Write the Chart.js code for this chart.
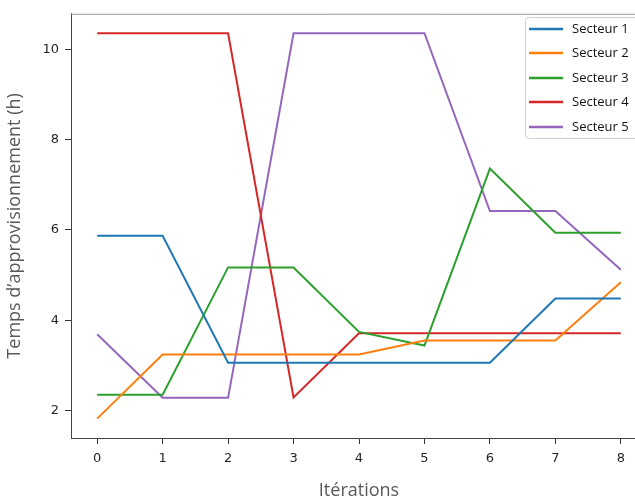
<!DOCTYPE html>
<html>
<head>
<meta charset="utf-8">
<script src="https://cdn.jsdelivr.net/npm/chart.js@4.4.0/dist/chart.umd.min.js"></script>
<style>
    html, body { margin: 0; padding: 0; background: #fff; overflow: hidden; }
    #wrap { width: 660px; height: 502px; }
</style>
</head>
<body>
<div id="wrap"><canvas id="chart" width="660" height="502"></canvas></div>
<script>
// Chart data
const iterations = [0, 1, 2, 3, 4, 5, 6, 7, 8];
const secteur1 = [5.87, 5.87, 3.06, 3.06, 3.06, 3.06, 3.06, 4.48, 4.48];
const secteur2 = [1.82, 3.24, 3.24, 3.24, 3.24, 3.55, 3.55, 3.55, 4.84];
const secteur3 = [2.35, 2.35, 5.17, 5.17, 3.74, 3.44, 7.36, 5.94, 5.94];
const secteur4 = [10.36, 10.36, 10.36, 2.29, 3.71, 3.71, 3.71, 3.71, 3.71];
const secteur5 = [3.69, 2.28, 2.28, 10.36, 10.36, 10.36, 6.42, 6.42, 5.12];
const seriesNames = ['Secteur 1', 'Secteur 2', 'Secteur 3', 'Secteur 4', 'Secteur 5'];
const yTicks = [2, 4, 6, 8, 10];

const COLORS = ['#1f77b4', '#ff7f0e', '#2ca02c', '#d62728', '#9467bd'];
const allSeries = [secteur1, secteur2, secteur3, secteur4, secteur5];

function toPoints(values) {
    return values.map((v, i) => ({ x: iterations[i], y: v }));
}

// Legend drawn inside the plot area, top right (like matplotlib)
const boxLegend = {
    id: 'boxLegend',
    afterDraw(chart) {
        const ctx = chart.ctx;
        const left = 525, top = 17, height = 121;
        ctx.save();
        ctx.fillStyle = 'rgba(255,255,255,0.9)';
        ctx.strokeStyle = '#d0d0d0';
        ctx.lineWidth = 1;
        ctx.beginPath();
        ctx.roundRect(left + 0.5, top + 0.5, 140, height, 3);
        ctx.fill();
        ctx.stroke();

        const rows = [29, 53, 78, 102, 127];
        ctx.font = '13px "Open Sans", sans-serif';
        ctx.textBaseline = 'middle';
        chart.data.datasets.forEach((ds, i) => {
            ctx.strokeStyle = ds.borderColor;
            ctx.lineWidth = 2.5;
            ctx.beginPath();
            ctx.moveTo(529, rows[i]);
            ctx.lineTo(563, rows[i]);
            ctx.stroke();
            ctx.fillStyle = '#111';
            ctx.fillText(ds.label, 572, rows[i]);
        });
        ctx.restore();
    }
};

// Top spine of the frame
const topSpine = {
    id: 'topSpine',
    afterDraw(chart) {
        const { left, right, top } = chart.chartArea;
        const ctx = chart.ctx;
        ctx.save();
        ctx.strokeStyle = '#999';
        ctx.lineWidth = 1;
        ctx.beginPath();
        ctx.moveTo(left, top + 0.5);
        ctx.lineTo(right, top + 0.5);
        ctx.stroke();
        ctx.restore();
    }
};

const tickFont = { family: '"DejaVu Sans", sans-serif', size: 13 };
const titleFont = { family: '"Open Sans", sans-serif', size: 18 };

new Chart(document.getElementById('chart'), {
    type: 'line',
    data: {
        datasets: allSeries.map((values, i) => ({
            label: seriesNames[i],
            data: toPoints(values),
            borderColor: COLORS[i],
            backgroundColor: COLORS[i],
            borderWidth: 2,
            pointRadius: 0,
            tension: 0
        }))
    },
    options: {
        responsive: false,
        animation: false,
        layout: { padding: { left: 0, top: 10, right: 13, bottom: 0 } },
        plugins: {
            legend: { display: false },
            tooltip: { enabled: false }
        },
        scales: {
            x: {
                type: 'linear',
                min: -0.4,
                max: 8.4,
                afterBuildTicks: scale => { scale.ticks = iterations.map(v => ({ value: v })); },
                afterFit: scale => { scale.height = 64; },
                ticks: { color: '#262626', font: tickFont, padding: 7 },
                grid: { drawOnChartArea: false, tickLength: 6, tickColor: '#333' },
                border: { color: '#444', width: 1 },
                title: {
                    display: true,
                    text: 'Itérations',
                    color: '#595959',
                    font: titleFont,
                    padding: { top: 0, bottom: 0 }
                }
            },
            y: {
                min: 1.39,
                max: 10.79,
                afterBuildTicks: scale => { scale.ticks = yTicks.map(v => ({ value: v })); },
                afterFit: scale => { scale.width = 71; },
                ticks: { color: '#262626', font: tickFont, padding: 6 },
                grid: { drawOnChartArea: false, tickLength: 6, tickColor: '#333' },
                border: { color: '#444', width: 1 },
                title: {
                    display: true,
                    text: 'Temps d’approvisionnement (h)',
                    color: '#595959',
                    font: titleFont,
                    padding: { top: 4, bottom: 0 }
                }
            }
        }
    },
    plugins: [boxLegend, topSpine]
});
</script>
</body>
</html>
